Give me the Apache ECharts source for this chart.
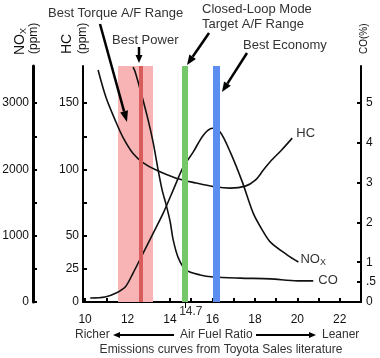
<!DOCTYPE html>
<html>
<head>
<meta charset="utf-8">
<script src="https://cdn.jsdelivr.net/npm/echarts@6/dist/echarts.min.js"></script>
<style>
    html, body {margin: 0; padding: 0; background: #fff;}
    #chart {width: 380px; height: 358px;}
</style>
</head>
<body>
<div id="chart"></div>
<script>
// HC emission curve (ppm) vs air/fuel ratio
const hcAfr = [10.61, 10.99, 11.42, 11.79, 12.26, 12.74, 13.35, 14.29, 15.24, 16.18, 16.84, 17.55, 18.02, 18.40, 18.73, 19.25, 19.76]
const hcPpm = [175, 154, 137, 124, 112, 105, 99.5, 93.4, 89.7, 86.7, 85.9, 87.4, 91.9, 99.5, 106, 114.5, 123.6]

// NOx curve (ppm)
const noxAfr = [10.24, 10.94, 11.46, 11.89, 12.26, 12.64, 13.21, 13.68, 14.15, 14.62, 15.09, 15.57, 15.99, 16.37, 16.84, 17.41, 17.92, 18.35, 18.73, 19.53, 20.05]
const noxPpm = [60, 75, 136, 226, 437, 678, 1040, 1341, 1688, 2034, 2260, 2517, 2622, 2562, 2260, 1808, 1341, 1085, 904, 708, 603]

// CO curve (%)
const coAfr = [12.26, 12.36, 12.64, 12.97, 13.21, 13.44, 13.63, 13.82, 14.01, 14.15, 14.39, 14.76, 15.42, 16.04, 17.31, 18.73, 20.00, 20.75]
const coPct = [5.9, 5.78, 5.25, 4.57, 4.00, 3.32, 2.81, 2.44, 2.01, 1.56, 1.11, 0.80, 0.68, 0.63, 0.60, 0.58, 0.53, 0.53]

// marked ranges / lines
const torqueRange = [11.55, 13.2]
const bestPower = 12.6
const closedLoop = 14.7
const bestEconomy = 16.2

// axis ticks
const xTicks = [10, 11, 12, 13, 14, 15, 16, 17, 18, 19, 20, 21, 22]
const xLabels = [10, 12, 14, 16, 18, 20, 22]
const hcTicks = [0, 25, 50, 75, 100, 125, 150]
const hcLabels = [0, 25, 50, 100, 150]
const noxTicks = [0, 500, 1000, 1500, 2000, 2500, 3000]
const noxLabels = [0, 1000, 2000, 3000]
const coTicks = [0, 0.5, 1, 2, 3, 4, 5]

const zip = (xs, ys) => xs.map((x, i) => [x, ys[i]])
const FONT = '"Liberation Sans", Arial, sans-serif'
const barTop = 6.0

const arrow = (x1, y1, x2, y2, w, hl, hw) => {
    const a = Math.atan2(y2 - y1, x2 - x1)
    const bx = x2 - hl * Math.cos(a)
    const by = y2 - hl * Math.sin(a)
    const nx = -Math.sin(a) * hw
    const ny = Math.cos(a) * hw
    return [
        {type: 'line', z: 100, shape: {x1, y1, x2: bx, y2: by}, style: {stroke: '#000', lineWidth: w}},
        {type: 'polygon', z: 100, shape: {points: [[x2, y2], [bx + nx, by + ny], [bx - nx, by - ny]]}, style: {fill: '#000'}},
    ]
}

const txt = (text, x, y, opts = {}) => ({
    type: 'text', z: 100, x, y,
    rotation: opts.rotation || 0,
    style: Object.assign({text, fill: '#333', font: `13px ${FONT}`, align: 'left', verticalAlign: 'middle'}, opts.style || {}),
})

const yAxisBase = {
    type: 'value',
    min: 0,
    splitLine: {show: false},
    axisLine: {show: true, lineStyle: {color: '#000', width: 2}},
    axisTick: {show: true, inside: true, length: 4, lineStyle: {color: '#000', width: 2}},
}
const plain = (v) => String(v)

const chart = echarts.init(document.getElementById('chart'))
chart.setOption({
    animation: false,
    grid: {left: 83, right: 19, top: 66, bottom: 56, containLabel: false, outerBoundsMode: 'none'},
    xAxis: [
        {
            type: 'value', min: 9.9, max: 23,
            splitLine: {show: false},
            axisLine: {onZero: false, lineStyle: {color: '#000', width: 2}},
            axisTick: {inside: true, length: 4, customValues: xTicks, lineStyle: {color: '#000', width: 2}},
            axisLabel: {customValues: xLabels, margin: 12, color: '#111', fontSize: 12, fontFamily: FONT, formatter: plain},
        },
        {
            type: 'value', min: 9.9, max: 23, position: 'bottom',
            splitLine: {show: false},
            axisLine: {show: false, onZero: false},
            axisTick: {show: true, length: 6, customValues: [closedLoop], lineStyle: {color: '#000', width: 1}},
            axisLabel: {customValues: [closedLoop], margin: 4, color: '#333', fontSize: 12, fontFamily: FONT, padding: [0, 0, 0, 12], formatter: plain},
        },
    ],
    yAxis: [
        Object.assign({}, yAxisBase, {
            max: 178, position: 'left', offset: 0,
            axisTick: Object.assign({}, yAxisBase.axisTick, {customValues: hcTicks}),
            axisLabel: {customValues: hcLabels, margin: 4, color: '#111', fontSize: 12, fontFamily: FONT, formatter: plain},
        }),
        Object.assign({}, yAxisBase, {
            max: 3560, position: 'left', offset: 50,
            axisLine: {show: true, lineStyle: {color: '#000', width: 3}},
            axisTick: Object.assign({}, yAxisBase.axisTick, {customValues: noxTicks}),
            axisLabel: {customValues: noxLabels, margin: 4, color: '#111', fontSize: 12, fontFamily: FONT, formatter: plain},
        }),
        Object.assign({}, yAxisBase, {
            max: 5.93, position: 'right', offset: 0,
            axisTick: Object.assign({}, yAxisBase.axisTick, {customValues: coTicks}),
            axisLabel: {
                customValues: coTicks, margin: 5, color: '#111', fontSize: 12, fontFamily: FONT,
                formatter: (v) => (v === 0.5 ? '.5' : String(v)),
            },
        }),
    ],
    series: [
        {
            name: 'ranges', type: 'line', yAxisIndex: 2, data: [], z: 1, clip: false, silent: true,
            markArea: {
                silent: true,
                itemStyle: {color: '#f8b4b4', opacity: 1},
                data: [[{coord: [torqueRange[0], 0]}, {coord: [torqueRange[1], barTop]}]],
            },
            markLine: {
                silent: true,
                symbol: ['none', 'none'],
                label: {show: false},
                lineStyle: {type: 'solid'},
                data: [
                    {xAxis: bestPower, lineStyle: {color: '#d95c5c', width: 4, type: 'solid'}},
                    {xAxis: closedLoop, lineStyle: {color: '#74c86a', width: 6, type: 'solid'}},
                    {xAxis: bestEconomy, lineStyle: {color: '#5b8ef0', width: 7, type: 'solid'}},
                ],
            },
        },
        {
            name: 'HC', type: 'line', yAxisIndex: 0, z: 3, symbol: 'none', smooth: 0.3,
            lineStyle: {color: '#111', width: 1.6},
            data: zip(hcAfr, hcPpm),
            endLabel: {show: true, formatter: 'HC', color: '#333', fontSize: 13, fontFamily: FONT, distance: 4, offset: [0, -5]},
        },
        {
            name: 'NOx', type: 'line', yAxisIndex: 1, z: 3, symbol: 'none', smooth: 0.3,
            lineStyle: {color: '#111', width: 1.6},
            data: zip(noxAfr, noxPpm),
            endLabel: {
                show: true, formatter: '{a|NO}{b|X}', distance: 2, offset: [0, -3],
                rich: {
                    a: {color: '#333', fontSize: 13, fontFamily: FONT, lineHeight: 16},
                    b: {color: '#333', fontSize: 9, fontFamily: FONT, lineHeight: 9, verticalAlign: 'bottom'},
                },
            },
        },
        {
            name: 'CO', type: 'line', yAxisIndex: 2, z: 3, symbol: 'none', smooth: 0.3,
            lineStyle: {color: '#111', width: 1.6},
            data: zip(coAfr, coPct),
            endLabel: {show: true, formatter: 'CO', color: '#333', fontSize: 13, fontFamily: FONT, distance: 5},
        },
    ],
    graphic: [
        // axis names
        txt('{a|NO}{b|X}', 20, 55, {rotation: Math.PI / 2, style: {rich: {
            a: {fontSize: 14, fontFamily: FONT, fill: '#111', lineHeight: 16},
            b: {fontSize: 9, fontFamily: FONT, fill: '#111', lineHeight: 9, verticalAlign: 'bottom'},
        }}}),
        txt('(ppm)', 34, 54, {rotation: Math.PI / 2, style: {fill: '#111', font: `12px ${FONT}`}}),
        txt('HC', 67, 54, {rotation: Math.PI / 2, style: {fill: '#111', font: `14px ${FONT}`}}),
        txt('(ppm)', 83, 54, {rotation: Math.PI / 2, style: {fill: '#111', font: `12px ${FONT}`}}),
        txt('CO(%)', 364, 54, {rotation: Math.PI / 2, style: {fill: '#111', font: `10px ${FONT}`}}),
        // annotations
        txt('Best Torque A/F Range', 48, 13),
        txt('Best Power', 112, 40),
        txt('Closed-Loop Mode', 202, 9),
        txt('Target A/F Range', 202, 24),
        txt('Best Economy', 243, 45),
        ...arrow(100, 24, 127, 122, 2.5, 11, 4),
        ...arrow(139, 47, 139, 63, 2.5, 8, 3.5),
        ...arrow(209, 33, 187, 65, 2.5, 10, 4),
        ...arrow(247, 53, 222, 92, 2.5, 10, 4),
        // bottom captions
        txt('Richer', 75, 335, {style: {font: `12px ${FONT}`}}),
        txt('Air Fuel Ratio', 180, 335, {style: {font: `12px ${FONT}`}}),
        txt('Leaner', 322, 335, {style: {font: `12px ${FONT}`}}),
        ...arrow(174, 335, 113, 335, 2, 7, 3),
        ...arrow(256, 335, 316, 335, 2, 7, 3),
        txt('Emissions curves from Toyota Sales literature', 221, 350, {style: {font: `12px ${FONT}`, align: 'center'}}),
    ],
})
</script>
</body>
</html>
